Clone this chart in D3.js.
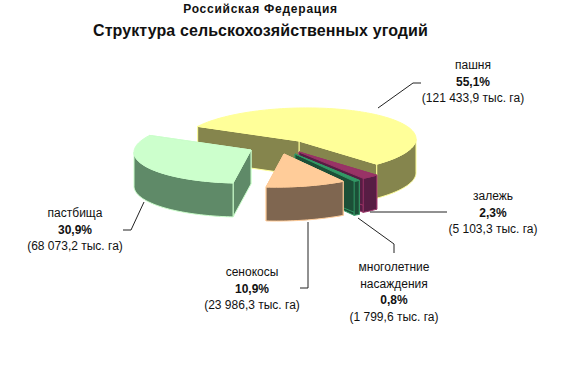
<!DOCTYPE html>
<html lang="ru">
<head>
<meta charset="utf-8">
<title>Структура сельскохозяйственных угодий</title>
<script src="https://cdn.jsdelivr.net/npm/d3@7"></script>
<style>
    html, body { margin: 0; padding: 0; background: #fff; }
    svg { display: block; }
    text { font-family: "Liberation Sans", Arial, sans-serif; fill: #111; }
</style>
</head>
<body>
<div id="chart"></div>
<script>
const titleTop = 'Российская Федерация';
const titleMain = 'Структура сельскохозяйственных угодий';

// clockwise from the big slice
const categories = ['пашня', 'залежь', 'многолетние насаждения', 'сенокосы', 'пастбища'];
const areas = [121433.9, 5103.3, 1799.6, 23986.3, 68073.2];
const percents = [55.1, 2.3, 0.8, 10.9, 30.9];

const topColors = ['#ffff99', '#993366', '#339966', '#ffcc99', '#ccffcc'];
const wallColors = ['#85854d', '#571d44', '#1c4f37', '#7f6650', '#5f8a68'];

// where each exploded slice has its tip
const tips = [[299, 141], [299, 152], [295, 154], [284, 154], [251, 150]];

const labelPos = [
    { x: 473, y: 69, lines: ['пашня'] },
    { x: 493, y: 200, lines: ['залежь'] },
    { x: 394, y: 271, lines: ['многолетние', 'насаждения'] },
    { x: 252, y: 276, lines: ['сенокосы'] },
    { x: 75, y: 217, lines: ['пастбища'] }
];

const leaders = [
    [[378, 108], [413, 83], [421, 83]],
    [[370, 212], [447, 212]],
    [[358, 218], [394, 244], [394, 253]],
    [[308, 222], [308, 288], [300, 288]],
    [[144, 202], [131, 230], [123, 230]]
];

const width = 567;
const height = 388;
const radiusX = 117;
const radiusY = 33;
const tilt = -2.2;
const depth = 34;
const firstAngle = -60 * Math.PI / 180;

const svg = d3.select('#chart')
    .append('svg')
    .attr('width', width)
    .attr('height', height);

const pie = d3.pie()
    .sort(null)
    .startAngle(firstAngle)
    .endAngle(firstAngle + 2 * Math.PI);

// flat pie angle -> point on the tilted ellipse, relative to the tip
function rimPoint(angle) {
    return [
        radiusX * Math.sin(angle),
        tilt * Math.sin(angle) - radiusY * Math.cos(angle)
    ];
}

function rimPoints(start, end, tip, drop) {
    const n = Math.max(2, Math.ceil((end - start) / 0.03));
    return d3.range(n + 1).map(i => {
        const p = rimPoint(start + (end - start) * i / n);
        return [tip[0] + p[0], tip[1] + p[1] + drop];
    });
}

const line = d3.line();
const slices = pie(areas);

// yellow first, pasture overlaps it and the small ones sit under the peach slice
slices.forEach((d, i) => {
    const tip = tips[i];
    const g = svg.append('g');
    const outer = rimPoints(d.startAngle, d.endAngle, tip, 0);
    const first = outer[0];
    const last = outer[outer.length - 1];

    const drawWall = pts => g.append('path')
        .attr('d', line(pts) + 'Z')
        .attr('fill', wallColors[i])
        .attr('stroke', topColors[i])
        .attr('stroke-width', 1);

    // radial walls, end edge first so its outline doesn't cross the other wall
    [last, first].forEach(p => {
        drawWall([tip, p, [p[0], p[1] + depth], [tip[0], tip[1] + depth]]);
    });

    // curved wall, only the half that faces us
    const from = Math.max(d.startAngle, Math.PI / 2);
    const to = Math.min(d.endAngle, 3 * Math.PI / 2);
    if (to > from) {
        const upper = rimPoints(from, to, tip, 0);
        const lower = rimPoints(from, to, tip, depth);
        drawWall(upper.concat(lower.reverse()));
    }

    g.append('path')
        .attr('d', line([tip].concat(outer)) + 'Z')
        .attr('fill', topColors[i])
        .attr('stroke', topColors[i])
        .attr('stroke-width', 1);
});

svg.selectAll('.leader')
    .data(leaders)
    .enter()
    .append('path')
    .attr('class', 'leader')
    .attr('d', d => line(d))
    .attr('fill', 'none')
    .attr('stroke', '#222')
    .attr('stroke-width', 1);

const ru = d3.formatLocale({ decimal: ',', thousands: ' ', grouping: [3], currency: ['', ''] });
const fmtArea = ru.format(',.1f');
const fmtPct = ru.format('.1f');

labelPos.forEach((pos, i) => {
    const text = svg.append('text')
        .attr('text-anchor', 'middle')
        .style('font-size', '12px');
    const rows = pos.lines.map(t => ({ t: t, bold: false }));
    rows.push({ t: fmtPct(percents[i]) + '%', bold: true });
    rows.push({ t: '(' + fmtArea(areas[i]) + ' тыс. га)', bold: false });
    rows.forEach((r, j) => {
        text.append('tspan')
            .attr('x', pos.x)
            .attr('y', pos.y + j * 16.7)
            .style('font-weight', r.bold ? 'bold' : 'normal')
            .text(r.t);
    });
});

svg.append('text')
    .attr('x', 260.5)
    .attr('y', 13)
    .attr('text-anchor', 'middle')
    .style('font-size', '12px')
    .style('font-weight', 'bold')
    .style('letter-spacing', '0.75px')
    .text(titleTop);

svg.append('text')
    .attr('x', 260.5)
    .attr('y', 36)
    .attr('text-anchor', 'middle')
    .style('font-size', '16px')
    .style('font-weight', 'bold')
    .style('letter-spacing', '0.1px')
    .text(titleMain);
</script>
</body>
</html>
